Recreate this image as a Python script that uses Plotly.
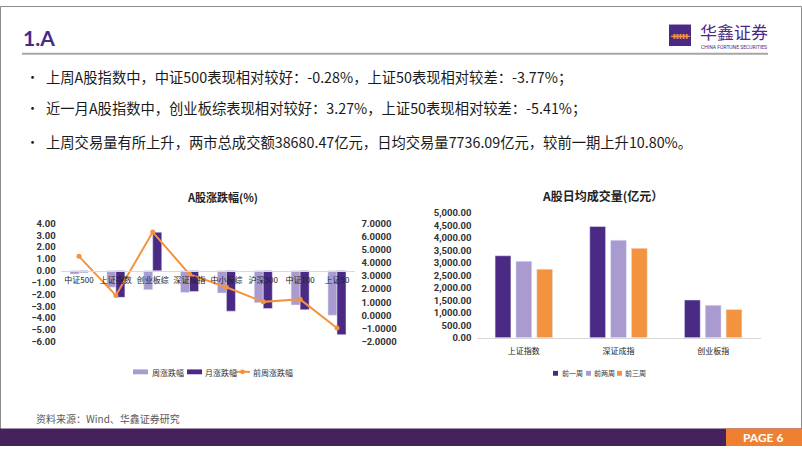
import plotly.graph_objects as go

W, H = 802, 451

# ---------------- data ----------------
idx_names = ["中证500", "上证指数", "创业板综", "深证成指", "中小板综", "沪深300", "中证100", "上证50"]
week_chg = [-0.28, -1.40, -1.60, -1.83, -1.88, -2.70, -2.90, -3.77]
month_chg = [-0.15, -2.25, 3.27, -1.75, -3.42, -3.20, -3.30, -5.41]
prev_week_chg = [4.50, 1.52, 6.35, 3.13, 2.14, 1.03, 1.22, -0.96]

vol_cats = ["上证指数", "深证成指", "创业板指"]
vol_w1 = [3281, 4453, 1510]
vol_w2 = [3060, 3906, 1302]
vol_w3 = [2746, 3580, 1133]

left_ticks = [4, 3, 2, 1, 0, -1, -2, -3, -4, -5, -6]
right_ticks = [7, 6, 5, 4, 3, 2, 1, 0, -1, -2]

bullets = [
    "上周A股指数中，中证500表现相对较好：-0.28%，上证50表现相对较差：-3.77%；",
    "近一月A股指数中，创业板综表现相对较好：3.27%，上证50表现相对较差：-5.41%；",
    "上周交易量有所上升，两市总成交额38680.47亿元，日均交易量7736.09亿元，较前一期上升10.80%。",
]

# ---------------- colours ----------------
DARK = "#4b2a85"
LIGHT = "#a99bd0"
ORANGE = "#f39340"
PURPLE_BAR = "#46225c"
CJK = "Noto Sans CJK SC"


def fx(px):
    return px / W


def fy(py):
    return 1 - py / H


fig = go.Figure()

# ---------------- left chart ----------------
fig.add_trace(go.Bar(
    x=idx_names, y=week_chg, name="周涨跌幅", marker_color=LIGHT,
    width=0.245, offset=-0.245, xaxis="x", yaxis="y",
))
fig.add_trace(go.Bar(
    x=idx_names, y=month_chg, name="月涨跌幅", marker_color=DARK,
    width=0.245, offset=0.0, xaxis="x", yaxis="y",
))
fig.add_trace(go.Scatter(
    x=idx_names, y=prev_week_chg, name="前周涨跌幅", mode="lines+markers",
    line=dict(color=ORANGE, width=2), marker=dict(color=ORANGE, size=5),
    xaxis="x", yaxis="y2",
))

# ---------------- right chart ----------------
fig.add_trace(go.Bar(x=vol_cats, y=vol_w1, name="前一周", marker_color=DARK,
                     xaxis="x3", yaxis="y3"))
fig.add_trace(go.Bar(x=vol_cats, y=vol_w2, name="前两周", marker_color=LIGHT,
                     xaxis="x3", yaxis="y3"))
fig.add_trace(go.Bar(x=vol_cats, y=vol_w3, name="前三周", marker_color=ORANGE,
                     xaxis="x3", yaxis="y3"))

tickfont = dict(family="Roboto", size=9.5, color="#333333", weight="bold")

L_top, L_bot = 223, 344
zero_y = L_top + (L_bot - L_top) * 4 / 10

fig.update_layout(
    width=W, height=H,
    margin=dict(l=0, r=0, t=0, b=0),
    paper_bgcolor="white", plot_bgcolor="rgba(0,0,0,0)",
    barmode="group", bargap=0.34, bargroupgap=0.24,
    showlegend=False,
    xaxis=dict(
        domain=[fx(60.6), fx(355.4)], anchor="free", position=fy(zero_y),
        type="category", range=[-0.5, 7.5], tickangle=0,
        showline=True, linecolor="#d9d9d9", linewidth=1,
        ticks="", showgrid=False, ticklabelstandoff=2,
        tickfont=dict(family=CJK, size=8, color="#222222"),
    ),
    yaxis=dict(
        domain=[fy(L_bot), fy(L_top)], range=[-6, 4], anchor="x",
        tickvals=left_ticks, tickformat=".2f", showgrid=False, zeroline=False,
        showline=False, ticks="", tickfont=tickfont, ticklabelstandoff=4,
    ),
    yaxis2=dict(
        domain=[fy(L_bot), fy(L_top)], range=[-2, 7], overlaying="y", side="right",
        anchor="x", tickvals=right_ticks, tickformat=".4f", showgrid=False,
        zeroline=False, showline=False, ticks="", tickfont=tickfont,
        ticklabelstandoff=5,
    ),
    xaxis3=dict(
        domain=[fx(476.5), fx(760.5)], anchor="y3", type="category", tickangle=0,
        showline=True, linecolor="#d9d9d9", linewidth=1, ticks="", showgrid=False,
        ticklabelstandoff=6,
        tickfont=dict(family=CJK, size=8, color="#222222"),
    ),
    yaxis3=dict(
        domain=[fy(340), fy(212)], range=[0, 5000], anchor="x3", dtick=500,
        tickformat=",.2f", showgrid=False, zeroline=False, showline=False,
        ticks="", tickfont=tickfont, ticklabelstandoff=4,
    ),
)

shapes = []
annotations = []


def rect(x0, y0, x1, y1, color, layer="above", line=None):
    shapes.append(dict(type="rect", xref="paper", yref="paper", x0=fx(x0), x1=fx(x1),
                       y0=fy(y1), y1=fy(y0), fillcolor=color,
                       line=line or dict(width=0), layer=layer))


def txt(x, y, s, size, color="#1a1a1a", family=CJK, xanchor="left", weight="normal"):
    annotations.append(dict(
        x=fx(x), y=fy(y), xref="paper", yref="paper", text=s, showarrow=False,
        xanchor=xanchor, yanchor="middle",
        font=dict(family=family, size=size, color=color, weight=weight),
    ))


# frame
shapes.append(dict(type="rect", xref="paper", yref="paper", x0=fx(0.5), x1=fx(801.5),
                   y0=fy(450.5), y1=fy(0.5), line=dict(color="#8c8c8c", width=1)))
# header rule
shapes.append(dict(type="line", xref="paper", yref="paper", x0=fx(22), x1=fx(768),
                   y0=fy(49), y1=fy(49), line=dict(color="#a6a6a6", width=2)))
# logo square
rect(669, 19, 691, 41, DARK)
# bottom bar
rect(0, 433, 802, 451, PURPLE_BAR)
rect(726, 433, 802, 451, "#ef8031")

# left legend swatches
rect(133, 372.5, 148, 377.5, LIGHT)
rect(187, 372.5, 202, 377.5, DARK)
shapes.append(dict(type="line", xref="paper", yref="paper", x0=fx(235), x1=fx(250),
                   y0=fy(375), y1=fy(375), line=dict(color=ORANGE, width=2)))
shapes.append(dict(type="circle", xref="paper", yref="paper", x0=fx(240), x1=fx(245),
                   y0=fy(377.5), y1=fy(372.5), fillcolor=ORANGE, line=dict(width=0)))
txt(150, 375.5, "周涨跌幅", 8, color="#333333")
txt(203, 375.5, "月涨跌幅", 8, color="#333333")
txt(251, 375.5, "前周涨跌幅", 8, color="#333333")

# right legend swatches
rect(553, 374, 558, 379, DARK)
rect(586, 374, 591, 379, LIGHT)
rect(617, 374, 622, 379, ORANGE)
txt(560, 376.5, "前一周", 7, color="#333333")
txt(592, 376.5, "前两周", 7, color="#333333")
txt(623, 376.5, "前三周", 7, color="#333333")

fig.update_layout(shapes=shapes)

txt(21, 32, "1.A", 21, color=DARK, family="Lato", weight="bold")
txt(680, 30, "<b>ᚔ</b>", 10, color=ORANGE, family="DejaVu Sans", xanchor="center")
txt(734, 26.5, "华鑫证券", 17, color=DARK, xanchor="center")
txt(734, 42, "CHINA FORTUNE SECURITIES", 5, color=DARK, family="Roboto", xanchor="center")

for b, yy in zip(bullets, [72, 104, 139]):
    txt(24, yy, "•", 13, color="#1a1a1a")
    txt(44, yy, b, 14.3, color="#1a1a1a")

txt(222, 196, "A股涨跌幅(%)", 11, color="#222222", xanchor="center", weight="bold")
txt(602, 194, "A股日均成交量(亿元）", 12, color="#222222", xanchor="center", weight="bold")
txt(34, 423, "资料来源：Wind、华鑫证券研究", 10, color="#595959")
annotations.append(dict(
    x=fx(763), y=fy(442), xref="paper", yref="paper", text="PAGE 6", showarrow=False,
    xanchor="center", yanchor="middle",
    font=dict(family="Lato", size=12, color="white", weight="bold"),
))
fig.update_layout(annotations=annotations)

fig.write_html(
    "out.html",
    config={"displayModeBar": False},
    post_script="document.body.style.margin='0';document.body.style.overflow='hidden';",
)
